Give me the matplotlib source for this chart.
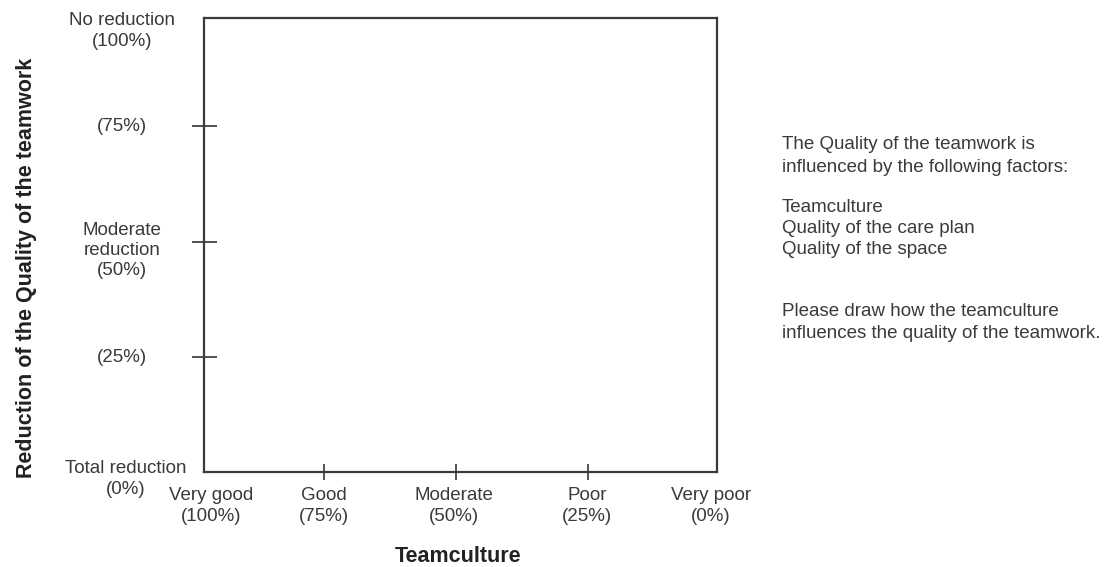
import matplotlib
matplotlib.use("Agg")
import matplotlib.pyplot as plt

plt.rcParams['font.family'] = ['Liberation Sans', 'DejaVu Sans']

# Data
x_values = [100, 75, 50, 25, 0]
x_labels = ["Very good\n(100%)", "Good\n(75%)", "Moderate\n(50%)", "Poor\n(25%)", "Very poor\n(0%)"]
x_tick_marks = [75, 50, 25]
y_values = [100, 75, 50, 25, 0]
y_labels = ["No reduction\n(100%)", "(75%)", "Moderate\nreduction\n(50%)", "(25%)", "Total reduction\n(0%)"]
y_tick_marks = [75, 50, 25]
x_title = "Teamculture"
y_title = "Reduction of the Quality of the teamwork"
side_lines = ["The Quality of the teamwork is",
              "influenced by the following factors:",
              "",
              "Teamculture",
              "Quality of the care plan",
              "Quality of the space",
              "",
              "Please draw how the teamculture",
              "influences the quality of the teamwork."]

W, H = 1109, 567
fig = plt.figure(figsize=(W / 100, H / 100), dpi=100)
ax = fig.add_axes([204 / W, 1 - 472 / H, (717 - 204) / W, (472 - 18) / H])
ax.set_xlim(97.7, 0.6)
ax.set_ylim(0, 98.5)
for s in ax.spines.values():
    s.set_color('#3a3a3a')
    s.set_linewidth(1.6)

ax.set_xticks(x_tick_marks)
ax.set_xticklabels([])
ax.tick_params(axis='x', direction='inout', length=12, width=1.2, color='#333333')
ax.set_yticks(y_tick_marks)
ax.set_yticklabels([])
ax.tick_params(axis='y', direction='inout', length=18, width=1.2, color='#333333')

txt = dict(fontsize=13.5, color='#3a3a3a')
# x labels (offsets in pixels relative to each value on the bottom axis)
x_offsets = {100: 19, 75: 0, 50: -2, 25: -1, 0: -9}
for v, lab in zip(x_values, x_labels):
    ax.annotate(lab, xy=(v, 0), xycoords='data', xytext=(x_offsets[v], -34),
                textcoords='offset pixels', ha='center', va='center', linespacing=1.32,
                annotation_clip=False, **txt)
# y labels
y_off = {100: (-82, -20), 75: (-82, 0), 50: (-82, -9), 25: (-82, -1), 0: (-78, -7)}
for v, lab in zip(y_values, y_labels):
    dx, dy = y_off[v]
    ax.annotate(lab, xy=(97.7, v), xycoords='data', xytext=(dx, dy),
                textcoords='offset pixels', ha='center', va='center', linespacing=1.25,
                annotation_clip=False, **txt)

fig.text(458 / W, 1 - 557 / H, x_title, ha='center', va='center', fontsize=15.5, fontweight='bold', color='#222222')
fig.text(27 / W, 1 - 268 / H, y_title, ha='center', va='center', rotation=90, fontsize=15.5, fontweight='bold', color='#222222')

line_y = [145, 167, None, 208, 229, 250, None, 312, 334]
for yy, line in zip(line_y, side_lines):
    if yy is None:
        continue
    fig.text(782 / W, 1 - yy / H, line, ha='left', va='center', fontsize=13.5, color='#3a3a3a')

fig.savefig("out.png", dpi=100, facecolor='white')
